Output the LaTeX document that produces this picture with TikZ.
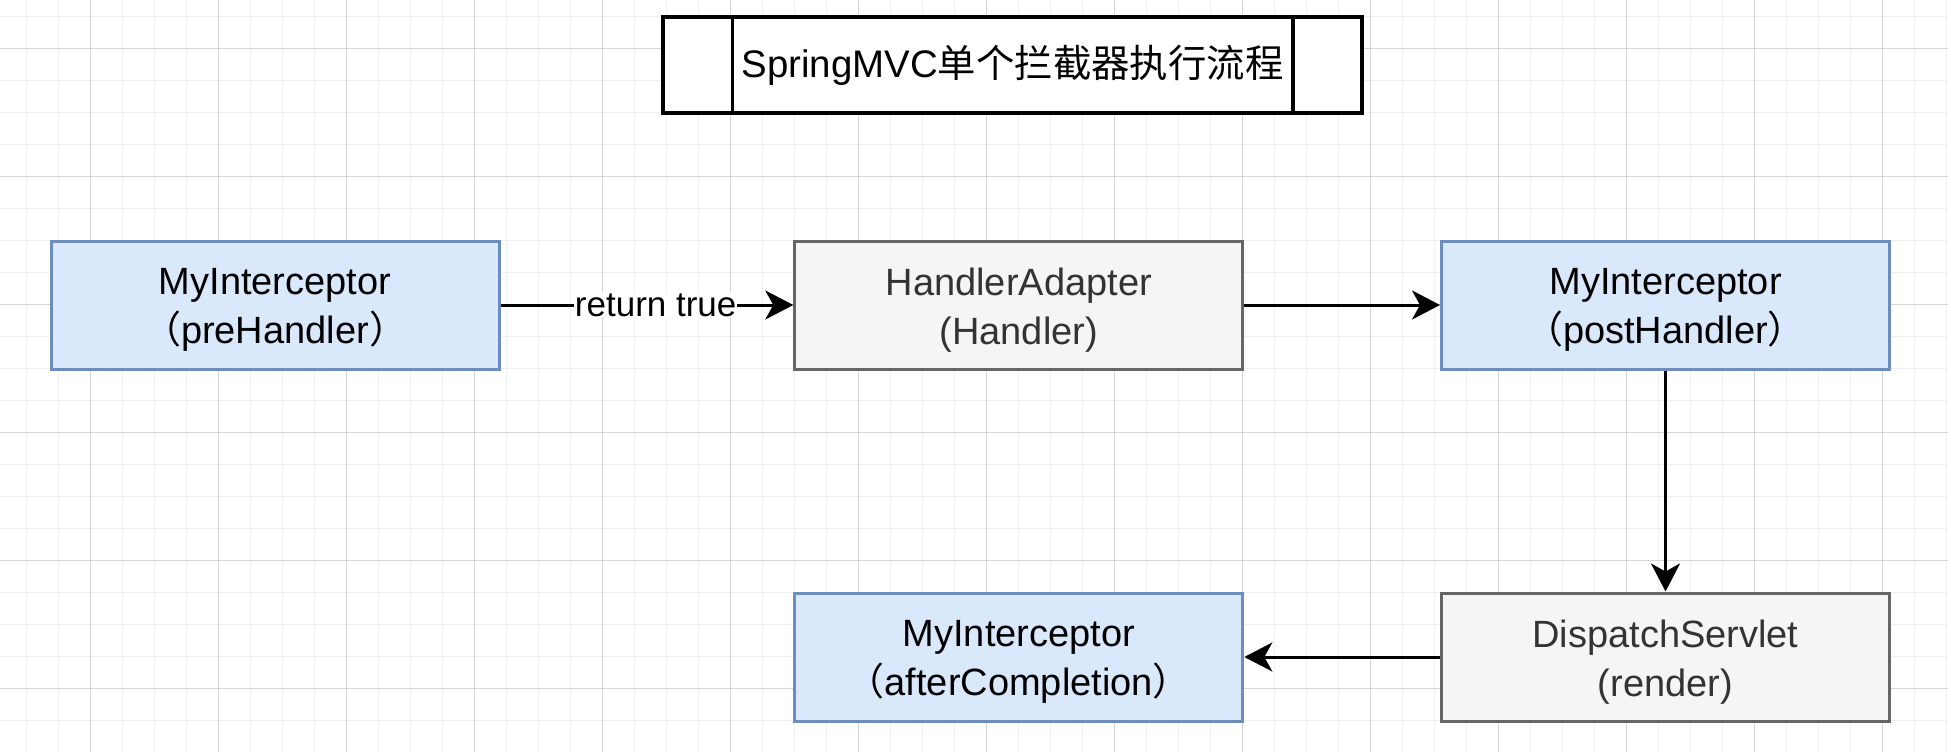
\documentclass[tikz,border=0pt]{standalone}
\usepackage{fontspec}
\setmainfont{Liberation Sans}
\newfontfamily\cjk{Noto Sans CJK SC}
\usetikzlibrary{arrows.meta}
\definecolor{bluefill}{HTML}{DAE8FC}
\definecolor{bluedraw}{HTML}{6C8EBF}
\definecolor{grayfill}{HTML}{F5F5F5}
\definecolor{graydraw}{HTML}{666666}
\definecolor{graytext}{HTML}{333333}
\definecolor{gridminor}{HTML}{F0F0F0}
\definecolor{gridmajor}{HTML}{D4D4D4}
\begin{document}
\begin{tikzpicture}[x=1pt,y=-1pt,
  box/.style={rectangle, minimum width=448pt, minimum height=128pt, inner sep=0pt, line width=3pt},
  boxtext/.style={align=center, inner sep=0pt, font=\fontsize{38}{48.5}\selectfont},
  bluebox/.style={box, fill=bluefill, draw=bluedraw},
  graybox/.style={box, fill=grayfill, draw=graydraw},
  bluetext/.style={boxtext, text=black},
  graytext/.style={boxtext, text=graytext},
  conn/.style={-{Stealth[length=28pt,width=29pt,inset=8pt]}, line width=3pt, black},
  lbl/.style={fill=white, inner sep=1pt, font=\fontsize{35}{40}\selectfont, text=black},
  titlebox/.style={rectangle, draw=black, fill=white, line width=3.5pt, minimum width=699pt, minimum height=96pt, inner sep=0pt, font=\fontsize{38.4}{46}\selectfont}
]
\useasboundingbox (0,0) rectangle (1948,752);
\fill[white] (0,0) rectangle (1948,752);
% background grid
\foreach \i in {0,...,60} { \draw[gridminor, line width=1.5pt] ({26.3+32*\i},0) -- ({26.3+32*\i},752); }
\foreach \i in {0,...,22} { \draw[gridminor, line width=1.5pt] (0,{16.3+32*\i}) -- (1948,{16.3+32*\i}); }
\foreach \i in {0,...,14} { \draw[gridmajor, line width=1.2pt] ({90.3+128*\i},0) -- ({90.3+128*\i},752); }
\foreach \i in {0,...,5} { \draw[gridmajor, line width=1.2pt] (0,{48.3+128*\i}) -- (1948,{48.3+128*\i}); }

% title
\node[titlebox] (title) at (1012.5,65) {SpringMVC{\cjk 单个拦截器执行流程}};
\draw[line width=3.5pt] ([xshift=71pt]title.north west) -- ([xshift=71pt]title.south west);
\draw[line width=3.5pt] ([xshift=-71pt]title.north east) -- ([xshift=-71pt]title.south east);

% nodes
\node[bluebox] (pre) at (275,305) {};
\node[bluetext] (pretxt) at ([yshift=-5pt]pre.center) {MyInterceptor\\{\cjk （}preHandler{\cjk ）}};
\node[graybox] (ha) at (1018.8,305) {};
\node[graytext] (hatxt) at ([yshift=-5pt]ha.center) {HandlerAdapter\\(Handler)};
\node[bluebox] (post) at (1665.5,305) {};
\node[bluetext] (posttxt) at ([yshift=-5pt]post.center) {MyInterceptor\\{\cjk （}postHandler{\cjk ）}};
\node[graybox] (ds) at (1665.5,657) {};
\node[graytext] (dstxt) at ([yshift=-5pt]ds.center) {DispatchServlet\\(render)};
\node[bluebox] (after) at (1018.8,657) {};
\node[bluetext] (aftertxt) at ([yshift=-5pt]after.center) {MyInterceptor\\{\cjk （}afterCompletion{\cjk ）}};

% connectors
\draw[conn] (pre) -- node[lbl, pos=0.53] {return true} (ha);
\draw[conn] (ha) -- (post);
\draw[conn] (post) -- (ds);
\draw[conn] (ds) -- (after);
\end{tikzpicture}
\end{document}
